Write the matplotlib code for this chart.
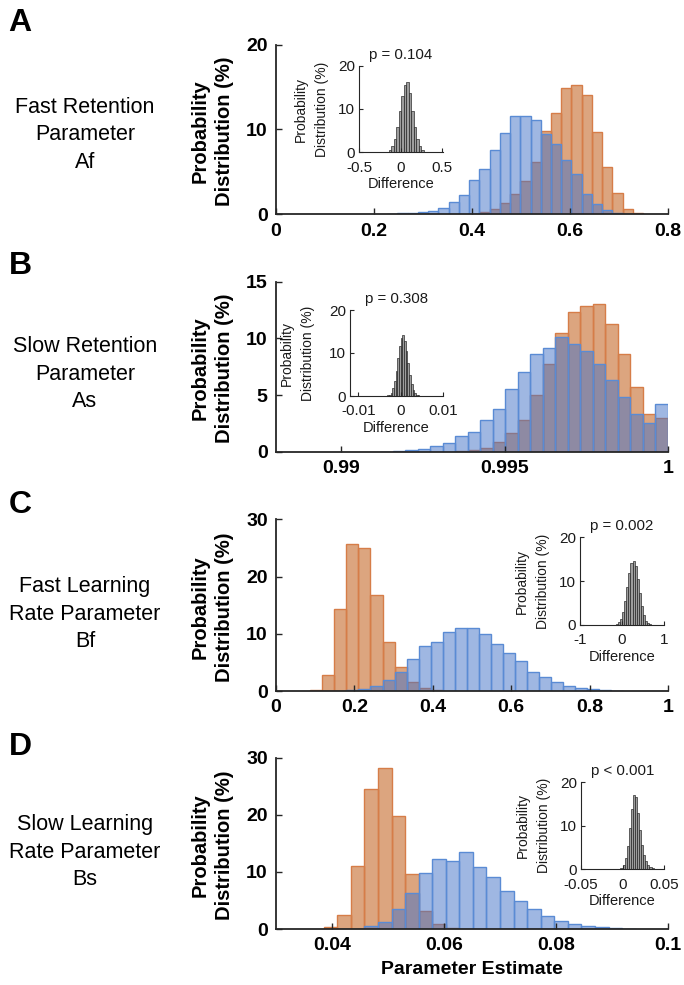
import numpy as np
import matplotlib.pyplot as plt
from matplotlib.colors import to_rgba

plt.rcParams['font.family'] = ['Liberation Sans', 'DejaVu Sans']

# ---- main histograms (percent per bin), bins share one grid per panel ----
a_start, a_width = 0.2268, 0.0209
a_blue = [0.05, 0.1, 0.2, 0.3, 0.42, 0.7, 1.41, 2.27, 4.03, 5.28, 7.63, 9.63, 11.54,
          11.54, 11.15, 9.43, 8.33, 6.38, 4.69, 2.42, 1.17, 0.5, 0.12, 0.05, 0, 0]
a_orange = [0, 0, 0, 0, 0, 0, 0, 0, 0.05, 0.27, 0.66, 1.29, 2.38,
            3.91, 6.18, 9.82, 11.93, 14.9, 15.18, 14.09, 9.70, 5.59, 2.46, 0.59, 0.12, 0]

b_start, b_width = 0.991191, 0.000383
b_blue = [0.03, 0.06, 0.15, 0.26, 0.53, 0.82, 1.44, 1.79, 2.82, 3.79, 5.55, 7.05,
          8.6, 9.19, 10.16, 9.52, 8.87, 7.72, 6.34, 4.82, 3.32, 2.53, 4.20]
b_orange = [0, 0, 0, 0, 0, 0, 0.05, 0.15, 0.35, 0.85, 1.64, 2.82,
            5.02, 7.75, 10.46, 12.31, 12.89, 13.04, 11.28, 8.63, 5.70, 3.32, 3.02]

c_start, c_width = 0.0875, 0.0307
c_blue = [0, 0, 0, 0.1, 0.29, 0.87, 1.86, 3.32, 5.54, 7.86, 8.56, 10.26, 11.06,
          10.95, 9.9, 8.15, 6.58, 5.3, 3.38, 2.39, 1.52, 0.87, 0.47, 0.29, 0.17, 0.05]
c_orange = [0.15, 2.85, 14.33, 25.74, 24.93, 16.77, 8.5, 4.14, 1.52, 0.47, 0.1, 0, 0,
            0, 0, 0, 0, 0, 0, 0, 0, 0, 0, 0, 0, 0]

d_start, d_width = 0.03851, 0.002423
d_blue = [0, 0, 0, 0.53, 1.28, 3.44, 6.36, 9.75, 12.26, 11.97, 13.43, 10.8, 9.16,
          6.65, 4.96, 3.44, 2.33, 1.4, 0.88, 0.58, 0.4, 0.15, 0.08]
d_orange = [0.3, 2.45, 11.09, 24.52, 28.25, 19.85, 9.57, 3.09, 0.82, 0.1, 0, 0, 0,
            0, 0, 0, 0, 0, 0, 0, 0, 0, 0]

# ---- difference histograms (insets) ----
a_diff_start, a_diff_width = -0.2, 0.03
a_diff = [0.04, 0.16, 0.5, 1.35, 3.0, 5.9, 9.6, 13.0, 15.5, 16.2, 13.7, 9.5, 5.8,
          3.0, 1.35, 0.5, 0.16, 0.05]
b_diff_start, b_diff_width = -0.004, 0.0004
b_diff = [0.02, 0.05, 0.12, 0.3, 0.8, 1.8, 3.4, 5.9, 8.9, 11.7, 13.6, 14.1, 12.8,
          10.4, 7.6, 4.9, 2.8, 1.4, 0.7, 0.3, 0.12, 0.05, 0.02]
c_diff_start, c_diff_width = -0.15, 0.05
c_diff = [0.23, 0.62, 1.47, 3.0, 5.5, 8.6, 11.8, 14.1, 14.7, 13.4, 10.6, 7.3, 4.4,
          2.3, 1.0, 0.42, 0.14]
d_diff_start, d_diff_width = -0.005, 0.0025
d_diff = [0.05, 0.3, 1.0, 2.6, 5.4, 9.5, 13.8, 17.0, 16.6, 13.0, 9.0, 5.6, 3.2,
          1.8, 0.9, 0.5, 0.25, 0.1]

p_texts = ['p = 0.104', 'p = 0.308', 'p = 0.002', 'p < 0.001']
panel_letters = ['A', 'B', 'C', 'D']
row_labels = ['Fast Retention\nParameter\nAf', 'Slow Retention\nParameter\nAs',
              'Fast Learning\nRate Parameter\nBf', 'Slow Learning\nRate Parameter\nBs']

ORANGE = '#BB4D01'
ORANGE_EDGE = '#D67D48'
BLUE = '#4171C7'
BLUE_EDGE = '#5A8BD4'
AXCOL = '#262626'
TXT = '#1a1a1a'

W, H = 684, 985
fig = plt.figure(figsize=(W / 100, H / 100), dpi=100)


def rect(x0, y0, x1, y1):
    # pixel box (top-left origin) -> figure fraction
    return [x0 / W, 1 - y1 / H, (x1 - x0) / W, (y1 - y0) / H]


def bars(ax, start, width, heights, **kw):
    h = np.asarray(heights, dtype=float)
    edges = start + width * np.arange(len(h))
    keep = h > 0
    ax.bar(edges[keep], h[keep], width, align='edge', **kw)


def main_hist(box, start, width, orange, blue, xlim, xticks, xlabels, ylim, yticks):
    ax = fig.add_axes(rect(*box))
    bars(ax, start, width, orange, facecolor=to_rgba(ORANGE, 0.5),
         edgecolor=ORANGE_EDGE, linewidth=1.0)
    bars(ax, start, width, blue, facecolor=to_rgba(BLUE, 0.5),
         edgecolor=BLUE_EDGE, linewidth=1.0)
    ax.set_xlim(*xlim)
    ax.set_ylim(*ylim)
    ax.set_xticks(xticks)
    ax.set_xticklabels(xlabels, fontweight='bold', fontsize=14)
    ax.set_yticks(yticks)
    ax.set_yticklabels([str(t) for t in yticks], fontweight='bold', fontsize=14)
    for s in ['top', 'right']:
        ax.spines[s].set_visible(False)
    for s in ['left', 'bottom']:
        ax.spines[s].set_color(AXCOL)
        ax.spines[s].set_linewidth(1.3)
    ax.tick_params(direction='in', length=4, width=1, color=AXCOL, pad=6)
    ax.text(-0.163, 0.49, 'Probability\nDistribution (%)', transform=ax.transAxes,
            rotation=90, ha='center', va='center', fontsize=14.5, fontweight='bold',
            linespacing=1.35, multialignment='center')
    return ax


def inset_hist(box, start, width, heights, xlim, xticks, xlabels, ptext):
    ax = fig.add_axes(rect(*box))
    bars(ax, start, width, heights, facecolor='#9d9d9d', edgecolor='#1c1c1c',
         linewidth=0.45)
    ax.set_xlim(*xlim)
    ax.set_ylim(0, 20)
    ax.set_xticks(xticks)
    ax.set_xticklabels(xlabels, fontsize=11)
    ax.set_yticks([0, 10, 20])
    ax.set_yticklabels(['0', '10', '20'], fontsize=11)
    for s in ['top', 'right']:
        ax.spines[s].set_visible(False)
    for s in ['left', 'bottom']:
        ax.spines[s].set_color(AXCOL)
        ax.spines[s].set_linewidth(0.8)
    ax.tick_params(axis='both', direction='in', length=3, width=0.8, color=AXCOL,
                   labelcolor=TXT)
    ax.tick_params(axis='x', pad=6)
    ax.tick_params(axis='y', pad=3)
    ax.set_xlabel('Difference', fontsize=10.5, labelpad=2, color=TXT)
    ax.set_title(ptext, fontsize=10.8, pad=5, color=TXT)
    ax.text(-0.57, 0.5, 'Probability\nDistribution (%)', transform=ax.transAxes,
            rotation=90, ha='center', va='center', fontsize=10, linespacing=1.65,
            color=TXT, multialignment='center')
    return ax


main_hist((276, 44.5, 668, 214.3), a_start, a_width, a_orange, a_blue,
          (0, 0.8), [0, 0.2, 0.4, 0.6, 0.8], ['0', '0.2', '0.4', '0.6', '0.8'],
          (0, 20), [0, 10, 20])
main_hist((276, 281.7, 668, 452), b_start, b_width, b_orange, b_blue,
          (0.988, 1.0), [0.99, 0.995, 1.0], ['0.99', '0.995', '1'],
          (0, 15), [0, 5, 10, 15])
main_hist((276, 519.3, 668, 691), c_start, c_width, c_orange, c_blue,
          (0, 1), [0, 0.2, 0.4, 0.6, 0.8, 1], ['0', '0.2', '0.4', '0.6', '0.8', '1'],
          (0, 30), [0, 10, 20, 30])
ax_d = main_hist((276, 757.7, 668, 929), d_start, d_width, d_orange, d_blue,
                 (0.03, 0.1), [0.04, 0.06, 0.08, 0.1], ['0.04', '0.06', '0.08', '0.1'],
                 (0, 30), [0, 10, 20, 30])
ax_d.set_xlabel('Parameter Estimate', fontsize=14, fontweight='bold', labelpad=5)

inset_hist((359, 65.7, 443, 152.3), a_diff_start, a_diff_width, a_diff,
           (-0.5, 0.51), [-0.5, 0, 0.5], ['-0.5', '0', '0.5'], p_texts[0])
inset_hist((350, 310, 443, 396), b_diff_start, b_diff_width, b_diff,
           (-0.012, 0.01), [-0.01, 0, 0.01], ['-0.01', '0', '0.01'], p_texts[1])
inset_hist((580, 537.3, 664, 625), c_diff_start, c_diff_width, c_diff,
           (-1, 1), [-1, 0, 1], ['-1', '0', '1'], p_texts[2])
inset_hist((581, 782, 664, 869.3), d_diff_start, d_diff_width, d_diff,
           (-0.05, 0.05), [-0.05, 0, 0.05], ['-0.05', '0', '0.05'], p_texts[3])

letter_y = [23, 266, 505, 747]
label_y = [135, 374, 614, 852]
for letter, ly, lab, yy in zip(panel_letters, letter_y, row_labels, label_y):
    fig.text(20 / W, 1 - ly / H, letter, fontsize=23, fontweight='bold',
             ha='center', va='center')
    fig.text(85 / W, 1 - yy / H, lab, fontsize=15.5, ha='center', va='center',
             linespacing=1.42, multialignment='center')

fig.savefig('out.png', dpi=100)
